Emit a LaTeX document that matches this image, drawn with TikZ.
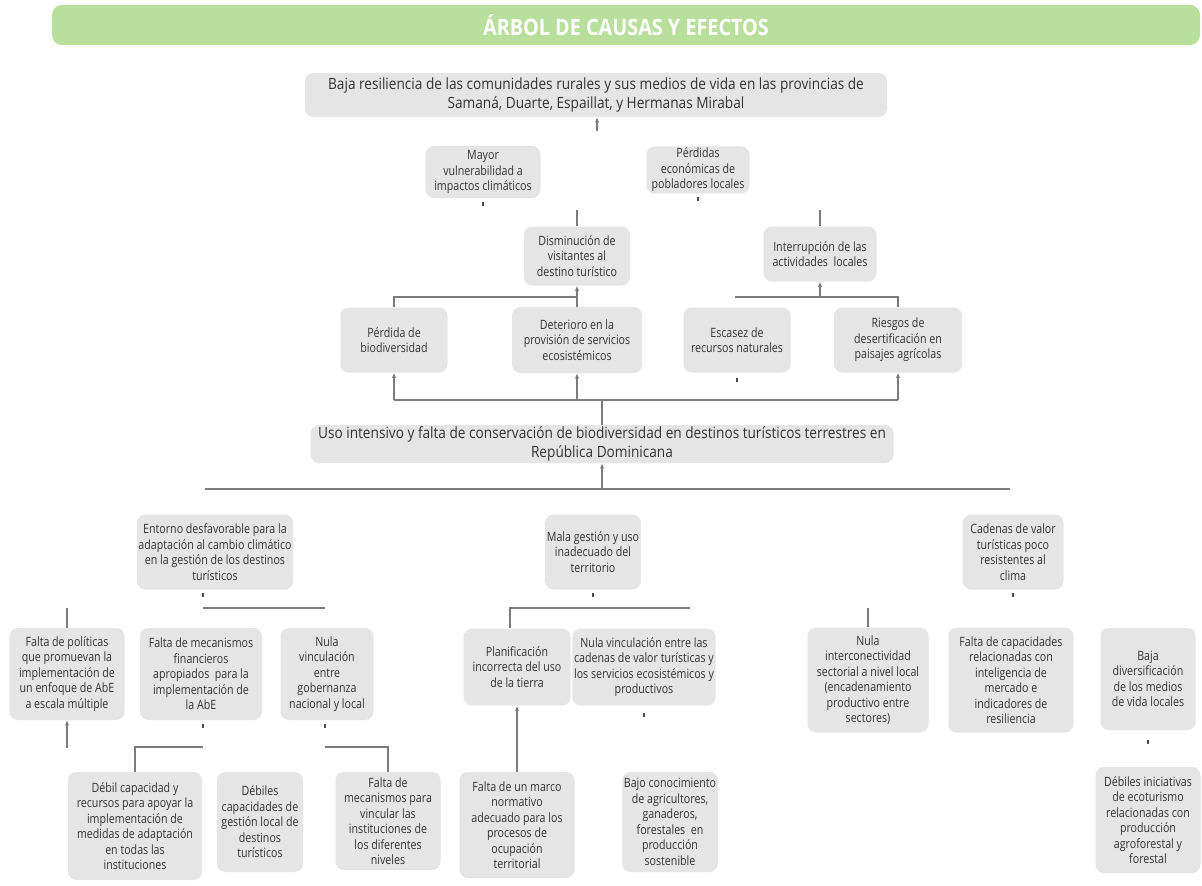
\documentclass[tikz,border=0pt]{standalone}
\usepackage{fontspec}
\setmainfont{Open Sans}[FakeStretch=0.88]
\newfontfamily\estrecha{Open Sans}[FakeStretch=0.83]
\usetikzlibrary{arrows.meta}
\definecolor{verde}{HTML}{B8DF9C}
\definecolor{gris}{HTML}{E5E5E5}
\definecolor{trazo}{HTML}{7C7C7C}
\definecolor{letra}{HTML}{333333}
\begin{document}
\begin{tikzpicture}[x=0.6pt,y=-0.6pt]
\tikzset{caja/.style n args={2}{fill=gris,text=letra,rounded corners=5pt,align=center,inner sep=1pt,minimum width=#1*0.6pt,minimum height=#2*0.6pt,font=\estrecha\fontsize{7.7}{9.3}\selectfont}}
\tikzset{ancha/.style={font=\fontsize{9.3}{11}\selectfont}}
\tikzset{linea/.style={draw=trazo,line width=0.7pt}}
\tikzset{flecha/.style={linea,-{Latex[length=3pt,width=2.6pt]}}}
\tikzset{marca/.style={draw=black!70,line width=0.8pt}}
\useasboundingbox[fill=white] (0,0) rectangle (1202,885);
\node[fill=verde,rounded corners=6pt,minimum width=1148*0.6pt,minimum height=40*0.6pt,text=white,font=\fontsize{13.5}{15}\bfseries\selectfont] (titulo) at (626,25) {ÁRBOL DE CAUSAS Y EFECTOS};
\node[caja={582}{44},ancha] (baja) at (596,95) {Baja resiliencia de las comunidades rurales y sus medios de vida en las provincias de\\Samaná, Duarte, Espaillat, y Hermanas Mirabal};
\node[caja={115}{52}] (mayor) at (483,172) {Mayor\\vulnerabilidad a\\impactos climáticos};
\node[caja={103}{47}] (perdidas) at (698,170) {Pérdidas\\económicas de\\pobladores locales};
\node[caja={106}{59}] (dismin) at (577,256) {Disminución de\\visitantes al\\destino turístico};
\node[caja={113}{55}] (interr) at (820,254) {Interrupción de las\\actividades\ \ locales};
\node[caja={107}{65}] (perdbio) at (394,340) {Pérdida de\\biodiversidad};
\node[caja={130}{66}] (deterioro) at (577,340) {Deterioro en la\\provisión de servicios\\ecosistémicos};
\node[caja={107}{65}] (escasez) at (737,340) {Escasez de\\recursos naturales};
\node[caja={128}{65}] (riesgos) at (898,340) {Riesgos de\\desertificación en\\paisajes agrícolas};
\node[caja={583}{38},ancha] (uso) at (602,444) {Uso intensivo y falta de conservación de biodiversidad en destinos turísticos terrestres en\\República Dominicana};
\node[caja={150}{75}] (entorno) at (215,552) {Entorno desfavorable para la\\adaptación al cambio climático\\en la gestión de los destinos\\turísticos};
\node[caja={89}{75}] (mala) at (593,552) {Mala gestión y uso\\inadecuado del\\territorio};
\node[caja={101}{75}] (cadenas) at (1013,552) {Cadenas de valor\\turísticas poco\\resistentes al\\clima};
\node[caja={115}{92}] (politicas) at (67,674) {Falta de políticas\\que promuevan la\\implementación de\\un enfoque de AbE\\a escala múltiple};
\node[caja={122}{92}] (mecfin) at (201,674) {Falta de mecanismos\\financieros\\apropiados\ \ para la\\implementación de\\la AbE};
\node[caja={93}{92}] (nulagob) at (327,674) {Nula\\vinculación\\entre\\gobernanza\\nacional y local};
\node[caja={107}{77}] (planif) at (517,667) {Planificación\\incorrecta del uso\\de la tierra};
\node[caja={142}{77}] (nulacad) at (644,667) {Nula vinculación entre las\\cadenas de valor turísticas y\\los servicios ecosistémicos y\\productivos};
\node[caja={121}{105}] (nulaint) at (868,680) {Nula\\interconectividad\\sectorial a nivel local\\(encadenamiento\\productivo entre\\sectores)};
\node[caja={125}{105}] (faltacap) at (1011,680) {Falta de capacidades\\relacionadas con\\inteligencia de\\mercado e\\indicadores de\\resiliencia};
\node[caja={95}{102}] (bajadiv) at (1148,679) {Baja\\diversificación\\de los medios\\de vida locales};
\node[caja={134}{108}] (debilcap) at (135,826) {Débil capacidad y\\recursos para apoyar la\\implementación de\\medidas de adaptación\\en todas las\\instituciones};
\node[caja={86}{100}] (debilges) at (260,822) {Débiles\\capacidades de\\gestión local de\\destinos\\turísticos};
\node[caja={105}{98}] (faltamec) at (388,821) {Falta de\\mecanismos para\\vincular las\\instituciones de\\los diferentes\\niveles};
\node[caja={115}{106}] (marco) at (517,825) {Falta de un marco\\normativo\\adecuado para los\\procesos de\\ocupación\\territorial};
\node[caja={90}{100}] (bajocon) at (670,822) {Bajo conocimiento\\de agricultores,\\ganaderos,\\forestales\ \ en\\producción\\sostenible};
\node[caja={105}{106}] (debilini) at (1148,820) {Débiles iniciativas\\de ecoturismo\\relacionadas con\\producción\\agroforestal y\\forestal};
\coordinate (e0) at (597,131);
\coordinate (e1) at (577,210);
\coordinate (e2) at (820,210);
\coordinate (r1) at (0,297);
\coordinate (r2) at (735,297);
\coordinate (r3) at (0,400);
\coordinate (r4) at (0,489);
\coordinate (c1) at (205,489);
\coordinate (c2) at (1010,489);
\coordinate (c3) at (203,608);
\coordinate (c4) at (325,608);
\coordinate (c5) at (67,608);
\coordinate (c6) at (690,608);
\coordinate (c7) at (510,608);
\coordinate (c8) at (868,608);
\coordinate (c9) at (67,748);
\coordinate (c10) at (203,747);
\coordinate (c11) at (325,747);
\draw[flecha] (e0) -- (e0 |- baja.south);
\draw[linea] (e1) -- (dismin.north);
\draw[linea] (e2) -- (interr.north);
\draw[flecha] (deterioro.north) -- (dismin.south);
\draw[linea] (perdbio.north) |- (deterioro.north |- r1);
\draw[flecha] (interr.south |- r1) -- (interr.south);
\draw[linea] (r2) -| (riesgos.north);
\draw[linea] (perdbio.south |- r3) -- (riesgos.south |- r3);
\foreach \n in {perdbio,deterioro,riesgos}
  \draw[flecha] (\n.south |- r3) -- (\n.south);
\draw[linea] (uso.north |- r3) -- (uso.north);
\draw[flecha] (uso.south |- r4) -- (uso.south);
\draw[linea] (c1) -- (c2);
\draw[linea] (c3) -- (c4);
\draw[linea] (c5) -- (politicas.north);
\draw[linea] (c6) -- (c7) -- (c7 |- planif.north);
\draw[linea] (c8) -- (nulaint.north);
\draw[flecha] (c9) -- (politicas.south);
\draw[linea] (c10) -| (debilcap.north);
\draw[linea] (c11) -| (faltamec.north);
\draw[flecha] (marco.north) -- (planif.south);
\draw[marca] ([yshift=-2pt]mayor.south) -- ++(0,4);
\draw[marca] ([yshift=-2pt]perdidas.south) -- ++(0,4);
\draw[marca] ([yshift=-3pt]escasez.south) -- ++(0,4);
\draw[marca] ([yshift=-2pt]mala.south) -- ++(0,4);
\draw[marca] ([yshift=-2pt]cadenas.south) -- ++(0,4);
\draw[marca] ([yshift=-2pt]c3 |- entorno.south) -- ++(0,4);
\draw[marca] ([yshift=-2pt]c10 |- mecfin.south) -- ++(0,4);
\draw[marca] ([yshift=-2pt]c11 |- nulagob.south) -- ++(0,4);
\draw[marca] ([yshift=-4pt]nulacad.south) -- ++(0,4);
\draw[marca] ([yshift=-6pt]bajadiv.south) -- ++(0,4);
\end{tikzpicture}
\end{document}
